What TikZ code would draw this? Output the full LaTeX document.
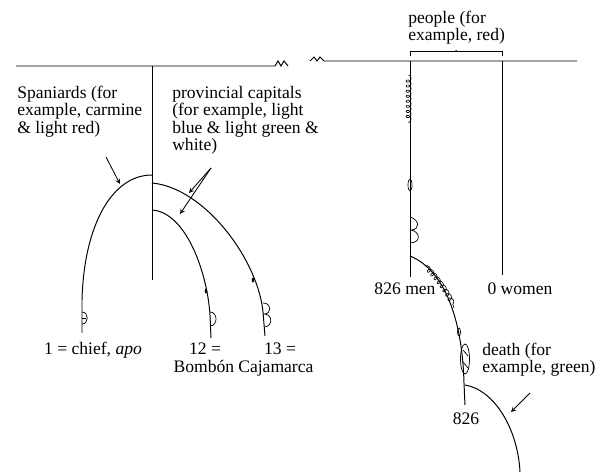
\documentclass[tikz,border=0pt]{standalone}
\usepackage{fontspec}
\setmainfont{Liberation Serif}
\usetikzlibrary{decorations.pathmorphing}
\begin{document}
\begin{tikzpicture}[x=0.025cm, y=-0.025cm,
    cord/.style={line width=0.7pt},
    lbl/.style={inner sep=0pt, align=left, font=\fontsize{12.5}{12.3}\selectfont},
    longknot/.style={decorate, decoration={coil, amplitude=1.8pt, segment length=3.6pt, aspect=0.9}, line width=0.45pt},
    pointer/.style={->, >=stealth, line width=0.6pt}]
    \useasboundingbox (0,0) rectangle (600,472);

    % main cord
    \draw[cord] (16,66) -- (275,66) -- (278,61) -- (281,66) -- (284,61) -- (288,66);
    \draw[cord] (310,61) -- (314,57) -- (317,61) -- (320,57) -- (324,61) -- (577,61);

    % Spaniards pendant
    \coordinate (sptop) at (152,66);
    \coordinate (spbot) at (152,280);
    \draw[cord] (sptop) -- (spbot);
    \coordinate (sp) at (152,175);
    \coordinate (chief) at (82,333);
    \draw[cord] (sp) .. controls (112,175) and (84,225) .. (82,300) -- (chief);
    \draw[line width=0.5pt] (82,312) .. controls (89,312) and (89,324) .. (82,324);
    \draw[line width=0.5pt] (82,318) -- (86,318);

    % provincial capitals
    \coordinate (pcout) at (152,183);
    \coordinate (pcin) at (152,210);
    \coordinate (caj) at (265,336);
    \coordinate (bom) at (211,338);
    \draw[cord] (pcout) .. controls (205,188) and (258,260) .. (263,312) -- (caj);
    \draw[cord] (pcin) .. controls (185,212) and (207,270) .. (210,315) -- (bom);
    \fill (253,280) ellipse (1.3 and 2.5);
    \fill (206,291) ellipse (1.3 and 2.5);
    \draw[line width=0.5pt] (210,312) .. controls (218,312) and (218,326) .. (210,326);
    \draw[line width=0.5pt] (263,303) .. controls (272,303) and (272,314) .. (264,314)
        .. controls (273,314) and (273,327) .. (264,327);

    % labels left
    \node[lbl, anchor=north west] (spaniards) at (17,86) {Spaniards (for\\example, carmine\\\& light red)};
    \node[lbl, anchor=north west] (provcap) at (172,86) {provincial capitals\\(for example, light\\blue \& light green \&\\white)};
    \coordinate (sptip) at (120,184);
    \coordinate (pctip) at (211,168);
    \draw[pointer] (106,157) -- (sptip);
    \draw[pointer] (pctip) -- (189,193);
    \draw[pointer] (pctip) -- (180,214);

    \node[lbl, anchor=base] (lchief) at (93,355) {1 = chief, \textit{apo}};
    \node[lbl, anchor=base] (l12) at (205,355) {12 =};
    \node[lbl, anchor=base] (lbom) at (204,372) {Bombón};
    \node[lbl, anchor=base] (l13) at (280,355) {13 =};
    \node[lbl, anchor=base west] (lcaj) at (238,372) {Cajamarca};

    % people
    \coordinate (mentop) at (410,61);
    \coordinate (menbot) at (410,277);
    \coordinate (womtop) at (502,61);
    \coordinate (wombot) at (502,275);
    \draw[cord] (mentop) -- (menbot);
    \draw[cord] (womtop) -- (wombot);
    \draw[longknot, xshift=-1] (410,75) -- (410,123);
    \draw[line width=0.5pt] (410,185) ellipse (2 and 6);
    \draw[line width=0.5pt] (410,217) .. controls (420,220) and (420,230) .. (411,230)
        .. controls (421,232) and (421,243) .. (410,243);
    \draw[line width=0.6pt] (410,56) -- (410,51) -- (502,51) -- (502,56);
    \fill (456,51) circle (1);
    \node[lbl, anchor=north west] (people) at (408,11) {people (for\\example, red)};
    \node[lbl, anchor=base] (men) at (405,295) {826 men};
    \node[lbl, anchor=base] (women) at (520,295) {0 women};

    % subsidiary and death
    \coordinate (sub) at (410,256);
    \coordinate (subbot) at (465,405);
    \draw[cord] (sub) .. controls (440,268) and (462,310) .. (464,383) -- (subbot);
    \draw[longknot] (425,266) .. controls (437,278) and (448,292) .. (454,308);
    \draw[line width=0.5pt] (459,332) ellipse (1.5 and 4);
    \draw[line width=0.5pt] (465,359) ellipse (4.5 and 15);
    \draw[line width=0.5pt] (463,350) -- (468,356) (463,362) -- (468,368);
    \coordinate (death) at (465,385);
    \draw[cord] (death) .. controls (495,390) and (518,430) .. (520,472);
    \node[lbl, anchor=north west] (ldeath) at (482,343) {death (for\\example, green)};
    \draw[pointer] (530,393) -- (511,412);
    \node[lbl, anchor=base] (l826) at (466,424) {826};
\end{tikzpicture}
\end{document}
